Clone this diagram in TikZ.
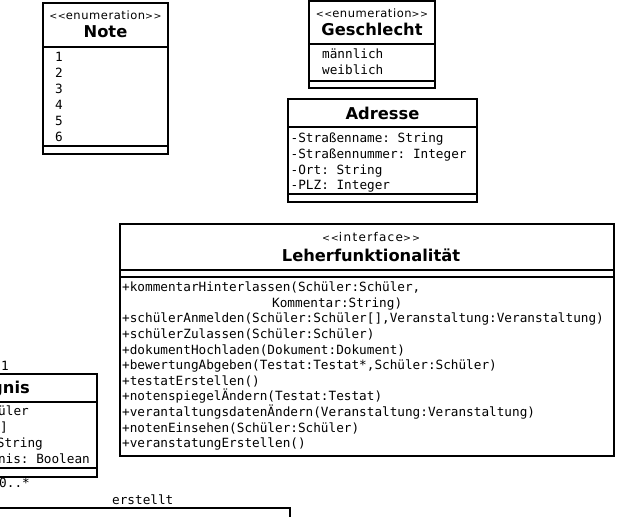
\documentclass[tikz,border=0pt]{standalone}
\usepackage{fontspec}
\setmainfont{DejaVu Sans}
\newfontfamily\monof{DejaVu Sans Mono}
\newfontfamily\sterf[LetterSpace=5]{DejaVu Sans}
\newfontfamily\sterwide[LetterSpace=11]{DejaVu Sans}
\frenchspacing
\tikzset{
  umlbox/.style={draw=black, line width=1.6pt, fill=white},
  divider/.style={draw=black, line width=1.6pt},
  mono/.style={font=\monof\fontsize{12.7}{15}\selectfont, inner sep=0pt, text height=9.3pt, text depth=0pt, anchor=west},
  ttl/.style={font=\bfseries\fontsize{16.3}{18}\selectfont, inner sep=0pt, text height=11.7pt, text depth=0pt},
  ster/.style={font=\sterf\fontsize{11.5}{12}\selectfont, inner sep=0pt, text height=8pt, text depth=0pt},
  sterw/.style={font=\sterwide\fontsize{12}{12}\selectfont, inner sep=0pt, text height=8pt, text depth=0pt},
}
\newcommand{\stereo}[1]{{\fontsize{9.5}{10}\selectfont<<}#1{\fontsize{9.5}{10}\selectfont>>}}
\begin{document}
\begin{tikzpicture}[x=1pt,y=-1pt]
\useasboundingbox (0,0) rectangle (617,516);
\clip (0,0) rectangle (617,516);
\fill[white] (0,0) rectangle (617,516);

% ---- Note
\draw[umlbox] (43,3) rectangle (168,154);
\draw[divider] (43,47) -- (168,47);
\draw[divider] (43,146) -- (168,146);
\node[ster] (noteS) at (105.5,16) {\stereo{enumeration}};
\node[ttl] (noteT) at (105.5,32) {Note};
\foreach \t [count=\i from 0] in {1,2,3,4,5,6}
  \node[mono] (note\i) at (55,57+16*\i) {\t};

% ---- Geschlecht
\draw[umlbox] (309,1) rectangle (435,88);
\draw[divider] (309,44) -- (435,44);
\draw[divider] (309,81) -- (435,81);
\node[ster] (gesS) at (372,14) {\stereo{enumeration}};
\node[ttl] (gesT) at (372,30) {Geschlecht};
\node[mono] (ges0) at (322,54) {männlich};
\node[mono] (ges1) at (322,70) {weiblich};

% ---- Adresse
\draw[umlbox] (288,99) rectangle (477,202);
\draw[divider] (288,127) -- (477,127);
\draw[divider] (288,194) -- (477,194);
\node[ttl] (adrT) at (382.5,114) {Adresse};
\foreach \t [count=\i from 0] in {-Straßenname: String,-Straßennummer: Integer,-Ort: String,-PLZ: Integer}
  \node[mono] (adr\i) at (290.5,138+15.7*\i) {\t};

% ---- Leherfunktionalitaet
\draw[umlbox] (120,224) rectangle (614,456);
\draw[divider] (120,270) -- (614,270);
\draw[divider] (120,277) -- (614,277);
\node[sterw] (lehS) at (371,237) {\stereo{interface}};
\node[ttl] (lehT) at (371,256) {Leherfunktionalität};
\node[mono] (leh0) at (122,287) {+kommentarHinterlassen(Schüler:Schüler,};
\node[mono] (leh1) at (272,302.6) {Kommentar:String)};
\foreach \t [count=\i from 2] in {%
  {+schülerAnmelden(Schüler:Schüler[],Veranstaltung:Veranstaltung)},
  {+schülerZulassen(Schüler:Schüler)},
  {+dokumentHochladen(Dokument:Dokument)},
  {+bewertungAbgeben(Testat:Testat*,Schüler:Schüler)},
  {+testatErstellen()},
  {+notenspiegelÄndern(Testat:Testat)},
  {+verantaltungsdatenÄndern(Veranstaltung:Veranstaltung)},
  {+notenEinsehen(Schüler:Schüler)},
  {+veranstatungErstellen()}}
  \node[mono] (leh\i) at (122,287+15.6*\i) {\t};

% ---- Zeugnis (partly outside)
\draw[umlbox] (-110,374) rectangle (97,477);
\draw[divider] (-110,402) -- (97,402);
\draw[divider] (-110,468) -- (97,468);
\node[ttl, anchor=east] (zeuT) at (30,388) {Zeugnis};
\node[mono, anchor=east] (zeu0) at (29,411) {üler};
\node[mono, anchor=east] (zeu1) at (8,427) {]};
\node[mono, anchor=east] (zeu2) at (43,443) {String};
\node[mono, anchor=east] (zeu3) at (90,459) {nis: Boolean};
\node[mono, anchor=east] (m1) at (9,366) {1};
\node[mono, anchor=east] (m2) at (30,483) {0..*};

% ---- bottom box (partly outside)
\draw[umlbox] (-10,508) rectangle (290,560);
\node[mono] (erst) at (112,500) {erstellt};
\end{tikzpicture}
\end{document}
